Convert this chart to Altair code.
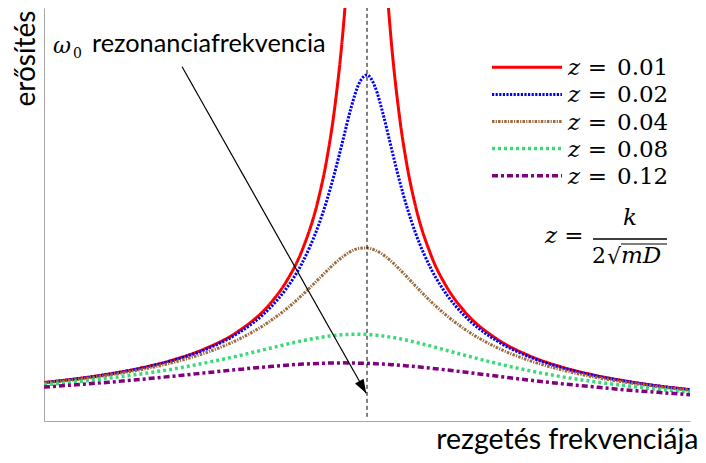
import math
import altair as alt
import pandas as pd

# ---------------- data ----------------
freq = [0.80, 0.82, 0.84, 0.86, 0.88, 0.90, 0.92, 0.94, 0.95, 0.96, 0.97, 0.975,
        0.98, 0.985, 0.99, 0.995, 1.00, 1.005, 1.01, 1.015, 1.02, 1.025, 1.03,
        1.04, 1.05, 1.06, 1.08, 1.10, 1.12, 1.14, 1.16, 1.18, 1.20]

amp_z001 = [2.78, 3.05, 3.39, 3.83, 4.42, 5.24, 6.46, 8.48, 10.07, 12.39, 16.08, 18.84,
            22.63, 28.00, 35.62, 44.90, 50.00, 44.50, 35.09, 27.46, 22.10, 18.31, 15.55,
            11.88, 9.56, 7.97, 5.96, 4.74, 3.92, 3.33, 2.89, 2.54, 2.27]
amp_z002 = [2.77, 3.04, 3.38, 3.81, 4.38, 5.17, 6.33, 8.18, 9.56, 11.45, 14.15, 15.89,
            17.95, 20.25, 22.57, 24.37, 25.00, 24.14, 22.16, 19.76, 17.42, 15.35, 13.60,
            10.92, 9.03, 7.65, 5.82, 4.66, 3.87, 3.30, 2.87, 2.53, 2.26]
amp_z004 = [2.74, 2.99, 3.31, 3.71, 4.23, 4.92, 5.87, 7.22, 8.09, 9.11, 10.25, 10.83,
            11.39, 11.87, 12.25, 12.47, 12.50, 12.34, 12.01, 11.54, 10.98, 10.38, 9.76,
            8.58, 7.55, 6.67, 5.33, 4.39, 3.71, 3.19, 2.80, 2.48, 2.22]
amp_z008 = [2.62, 2.83, 3.09, 3.40, 3.76, 4.20, 4.70, 5.26, 5.54, 5.80, 6.02, 6.11,
            6.18, 6.24, 6.26, 6.27, 6.25, 6.21, 6.14, 6.05, 5.95, 5.83, 5.69,
            5.40, 5.08, 4.77, 4.17, 3.65, 3.21, 2.85, 2.55, 2.30, 2.08]
amp_z012 = [2.45, 2.62, 2.80, 3.01, 3.24, 3.48, 3.72, 3.94, 4.03, 4.11, 4.16, 4.18,
            4.19, 4.20, 4.19, 4.18, 4.17, 4.14, 4.11, 4.07, 4.03, 3.98, 3.93,
            3.81, 3.68, 3.54, 3.25, 2.96, 2.70, 2.47, 2.25, 2.07, 1.90]

z_values = ["0.01", "0.02", "0.04", "0.08", "0.12"]
series_amps = [amp_z001, amp_z002, amp_z004, amp_z008, amp_z012]

# ---------------- styles ----------------
series_colors = ["#FF0000", "#0000FF", "#9C6B3E", "#3AD97A", "#800080"]
series_dash = [[1, 0], [2.2, 1.4], [2.5, 1.2, 1.2, 1.2], [3, 3], [6, 3, 3, 3]]
series_width = [3, 3, 3, 3.5, 3.5]

W, H = 646, 413
X_DOMAIN = [0.8, 1.2]
Y_DOMAIN = [0, 29.84]
PLOT_LEFT, PLOT_TOP = 44, 8   # page position of the plot origin


def px(x):
    return x - PLOT_LEFT


def py(y):
    return y - PLOT_TOP


xscale = alt.Scale(domain=X_DOMAIN, nice=False, zero=False)
yscale = alt.Scale(domain=Y_DOMAIN, nice=False, zero=False)

SANS = "Lato"
SERIF = "DejaVu Serif"

x_axis = alt.Axis(title="rezgetés frekvenciája", labels=False, ticks=False, grid=False,
                  domainColor="#A6A6A6", domainWidth=1,
                  titleFont=SANS, titleFontSize=28.5, titleFontWeight="normal",
                  titleColor="#000000", titleAlign="right", titleBaseline="alphabetic",
                  titleAngle=0, titleX=654, titleY=27)
y_axis = alt.Axis(title="erősítés", labels=False, ticks=False, grid=False,
                  domainColor="#A6A6A6", domainWidth=1,
                  titleFont=SANS, titleFontSize=28, titleFontWeight="normal",
                  titleColor="#000000", titleAlign="right", titleBaseline="alphabetic",
                  titleAngle=270, titleX=-10, titleY=2)


def X(field):
    return alt.X(field, scale=xscale, axis=x_axis)


def Y(field):
    return alt.Y(field, scale=yscale, axis=y_axis)


layers = []
for i, (zv, amps) in enumerate(zip(z_values, series_amps)):
    d = pd.DataFrame({"freq": freq, "amp": amps})
    layers.append(
        alt.Chart(d).mark_line(color=series_colors[i], strokeDash=series_dash[i],
                               strokeWidth=series_width[i], clip=True,
                               interpolate="monotone").encode(
            x=X("freq:Q"), y=Y("amp:Q"))
    )

# resonance dashed line
res = pd.DataFrame({"x": [1.0], "y": [0.3]})
layers.append(
    alt.Chart(res).mark_rule(color="black", strokeWidth=1, strokeDash=[4, 3]).encode(
        x=X("x:Q"), y=Y("y:Q"), y2=alt.value(py(5)))
)

# arrow
arrow_start = (0.8855, 25.6)
arrow_end = (0.9995, 2.0)
arr = pd.DataFrame({"x": [arrow_start[0]], "y": [arrow_start[1]],
                    "x2": [arrow_end[0]], "y2": [arrow_end[1]]})
layers.append(
    alt.Chart(arr).mark_rule(color="black", strokeWidth=1.2).encode(
        x=X("x:Q"), y=Y("y:Q"), x2="x2:Q", y2="y2:Q")
)
dx = (arrow_end[0] - arrow_start[0]) * W / (X_DOMAIN[1] - X_DOMAIN[0])
dy = -(arrow_end[1] - arrow_start[1]) * H / (Y_DOMAIN[1] - Y_DOMAIN[0])
angle = math.degrees(math.atan2(-dx, dy)) % 360
head = pd.DataFrame({"x": [arrow_end[0]], "y": [arrow_end[1]]})
layers.append(
    alt.Chart(head).mark_point(shape="M0,0L-0.7,-2L0.7,-2Z", size=196, filled=True,
                               color="black", opacity=1, strokeWidth=0,
                               angle=angle).encode(x=X("x:Q"), y=Y("y:Q"))
)


def text(t, x, y, font=SERIF, size=23, style="normal", align="left"):
    return alt.Chart(pd.DataFrame({"t": [t]})).mark_text(
        font=font, fontSize=size, fontStyle=style, align=align,
        baseline="alphabetic", color="black").encode(
        x=alt.value(px(x)), y=alt.value(py(y)), text="t:N")


def hline(x1, x2, y, color="black", width=1.5, dash=None):
    kw = dict(color=color, strokeWidth=width)
    if dash is not None:
        kw["strokeDash"] = dash
    return alt.Chart(pd.DataFrame({"a": [0]})).mark_rule(**kw).encode(
        x=alt.value(px(x1)), x2=alt.value(px(x2)), y=alt.value(py(y)))


# annotation text
layers.append(text("ω", 53, 53, style="italic", size=22))
layers.append(text("0", 73, 58, size=14))
layers.append(text("rezonanciafrekvencia", 92, 52, font=SANS, size=25.3))

# custom legend
for i, zv in enumerate(z_values):
    ly = 67.3 + 27.1 * i
    layers.append(hline(492, 562, ly, color=series_colors[i], width=series_width[i],
                        dash=series_dash[i]))
    layers.append(text("z", 568, ly + 8, style="italic"))
    layers.append(text("=", 597.5, ly + 8, align="center"))
    layers.append(text(zv, 617, ly + 8))

# formula z = k / (2 sqrt(mD))
layers.append(text("z", 545, 243, style="italic"))
layers.append(text("=", 574, 243, align="center"))
layers.append(text("k", 630, 225, style="italic", align="center"))
layers.append(hline(593, 667, 239, width=1.3))
layers.append(text("2", 592, 263, size=22))
layers.append(text("√", 607, 264, size=22))
layers.append(hline(621, 667, 244, width=1.2))
layers.append(text("mD", 621, 263, style="italic"))

chart = alt.layer(*layers).properties(
    width=W, height=H,
    padding={"left": 36, "top": 0, "right": 8, "bottom": 34},
    autosize="none",
    background="white",
).configure_view(strokeWidth=0)

chart.save("out.html", embed_options={"renderer": "svg", "actions": False})
